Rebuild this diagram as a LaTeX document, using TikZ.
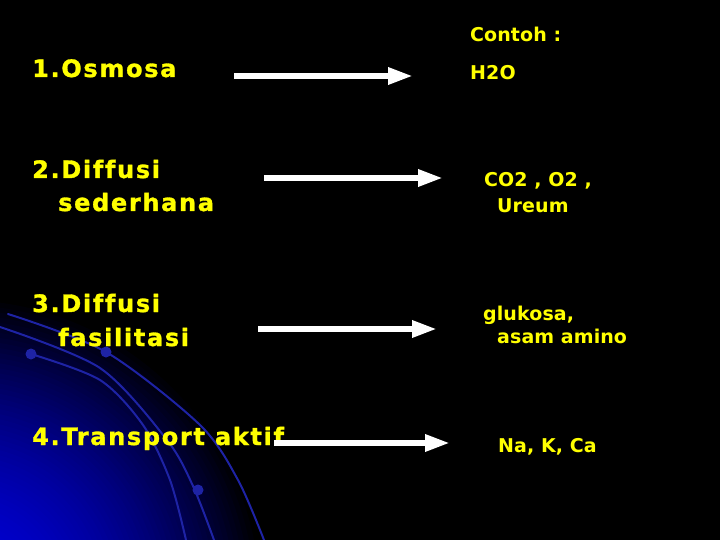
\documentclass[tikz,border=0pt]{standalone}
\usepackage{fontspec}
\setmainfont{DejaVu Sans}
\newfontfamily\lfont{DejaVu Sans}[LetterSpace=7, Ligatures={NoCommon}, BoldFeatures={FakeBold=1.2}]
\newfontfamily\rfont{DejaVu Sans}[LetterSpace=0.5, Ligatures={NoCommon}]
\usetikzlibrary{arrows.meta}
\definecolor{bgblue}{RGB}{0,0,215}
\definecolor{arcblue}{RGB}{30,35,165}
\definecolor{txtyellow}{RGB}{255,255,0}
\tikzset{
  lefttxt/.style={anchor=base west, inner sep=0pt, text=txtyellow,
    font=\lfont\bfseries\fontsize{24}{30}\selectfont},
  righttxt/.style={anchor=base west, inner sep=0pt, text=txtyellow,
    font=\rfont\bfseries\fontsize{19}{24}\selectfont},
  arr/.style={draw=white, line width=6pt, -{Triangle[length=25pt,width=16pt]}},
  arcline/.style={draw=arcblue, line width=2pt, line cap=round},
  arcdot/.style={fill=arcblue}
}
\begin{document}
\begin{tikzpicture}[x=1pt,y=-1pt]
\fill[black] (0,0) rectangle (720,540);
\useasboundingbox (0,0) rectangle (720,540);
\begin{scope}
\clip (0,0) rectangle (720,540);
\foreach \i in {0,...,59}{
  \pgfmathsetmacro\rr{305-5*\i}
  \pgfmathsetmacro\pc{100*(1-(\rr/305)^1.9)}
  \fill[bgblue!\pc!black] (-40,600) circle (\rr);
}
\draw[arcline] plot[smooth] coordinates {(8,314) (106,352) (200,425) (238,480) (264,540)};
\draw[arcline] plot[smooth] coordinates {(0,327) (100,368) (167,440) (193,486) (214,540)};
\draw[arcline] plot[smooth] coordinates {(31,354) (100,380) (143,425) (170,480) (186,540)};
\fill[arcdot] (106,352) circle (5.5);
\fill[arcdot] (31,354) circle (5.5);
\fill[arcdot] (198,490) circle (5.5);
\end{scope}

% left items
\node[lefttxt] (i1) at (32,77) {1.Osmosa};
\node[lefttxt] (i2a) at (32,178) {2.Diffusi};
\node[lefttxt] (i2b) at (58,211) {sederhana};
\node[lefttxt] (i3a) at (32,312) {3.Diffusi};
\node[lefttxt] (i3b) at (58,346) {fasilitasi};
\node[lefttxt] (i4) at (32,445) {4.Transport aktif};

% right column
\node[righttxt] (hd) at (470,42) {Contoh :};
\node[righttxt] (r1) at (470,80) {H2O};
\node[righttxt] (r2a) at (484,187) {CO2 , O2 ,};
\node[righttxt] (r2b) at (497,212) {Ureum};
\node[righttxt] (r3a) at (483,320) {glukosa,};
\node[righttxt] (r3b) at (497,343) {asam amino};
\node[righttxt] (r4) at (498,452) {Na, K, Ca};

% arrows
\coordinate (s1) at (234,76);  \coordinate (e1) at (413,76);
\coordinate (s2) at (264,178); \coordinate (e2) at (443,178);
\coordinate (s3) at (258,329); \coordinate (e3) at (437,329);
\coordinate (s4) at (274,443); \coordinate (e4) at (450,443);
\draw[arr] (s1) -- (e1);
\draw[arr] (s2) -- (e2);
\draw[arr] (s3) -- (e3);
\draw[arr] (s4) -- (e4);
\end{tikzpicture}
\end{document}
